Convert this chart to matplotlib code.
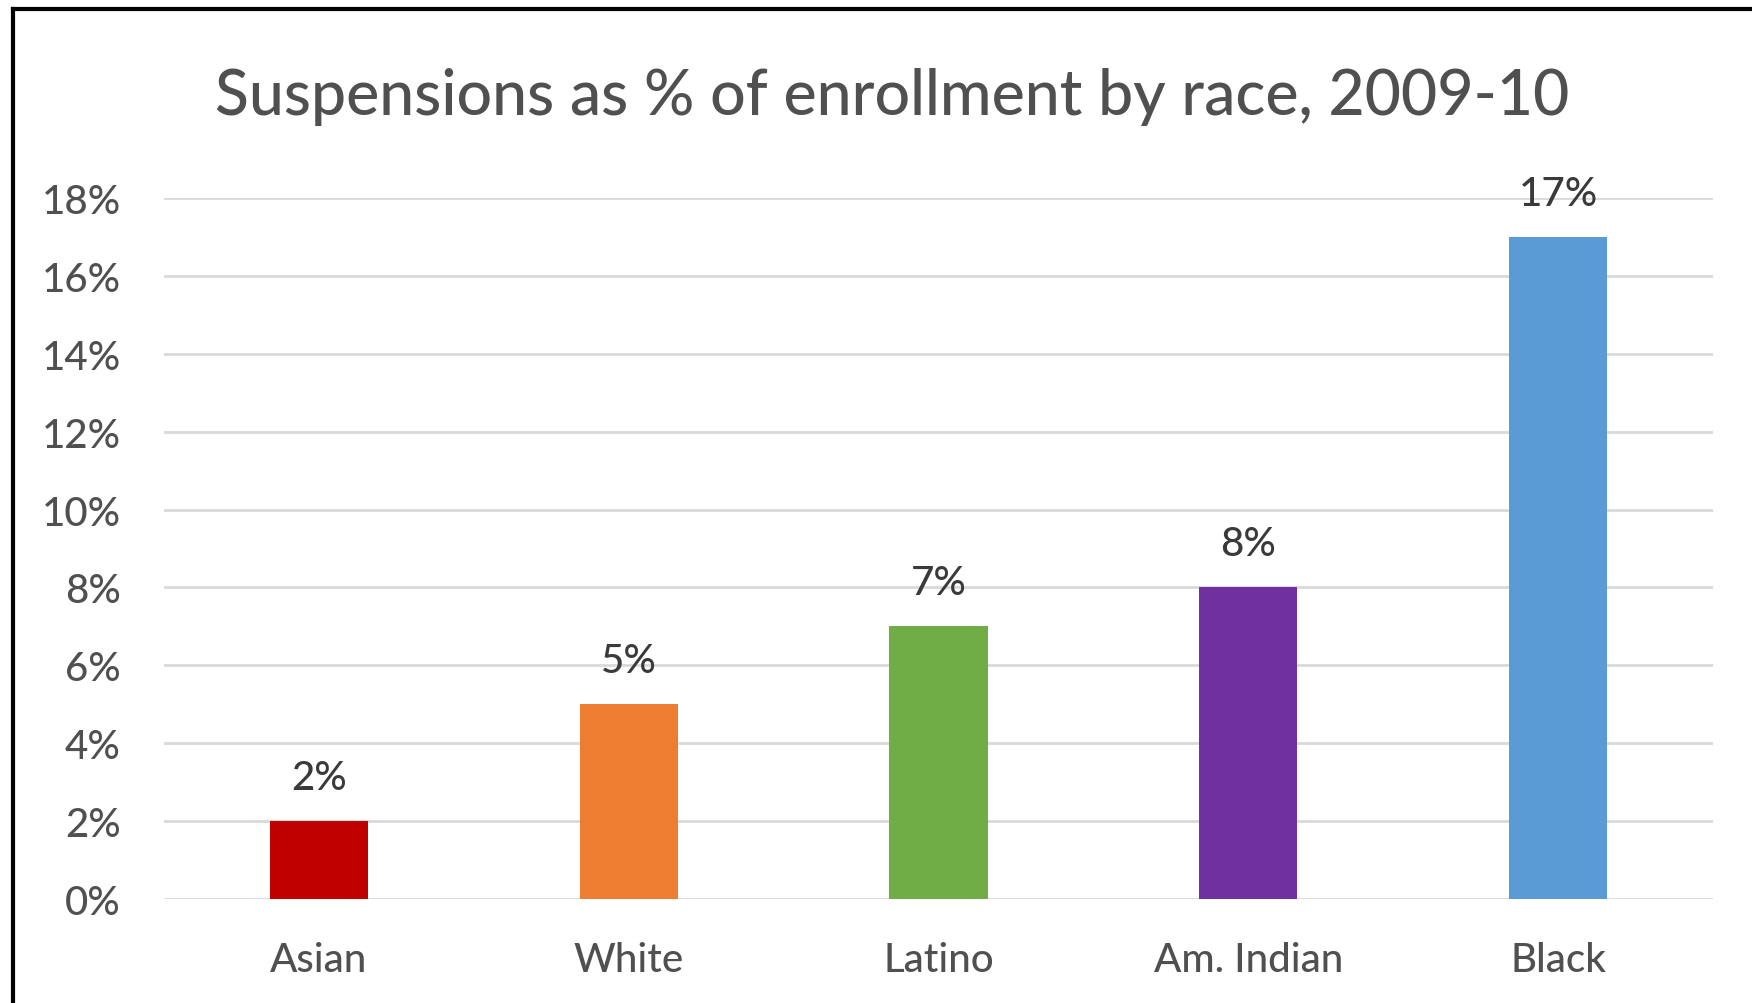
import matplotlib
matplotlib.use("Agg")
from matplotlib import pyplot as plt
from matplotlib.lines import Line2D

races = ["Asian", "White", "Latino", "Am. Indian", "Black"]
suspension_pct = [2, 5, 7, 8, 17]
bar_colors = ["#C00000", "#ED7D31", "#70AD47", "#7030A0", "#5B9BD5"]
y_ticks = [0, 2, 4, 6, 8, 10, 12, 14, 16, 18]

text_color = "#505050"
plt.rcParams["font.family"] = ["Lato", "DejaVu Sans"]
plt.rcParams["font.weight"] = "medium"

fig = plt.figure(figsize=(17.52, 10.04), dpi=100)
ax = fig.add_axes([0.0936, 0.1036, 0.8841, 0.6982])

x = range(len(races))
bars = ax.bar(x, suspension_pct, width=0.317, color=bar_colors, zorder=3)

for xi, v in zip(x, suspension_pct):
    ax.annotate(f"{v}%", (xi, v), xytext=(0, 18), textcoords="offset points",
                ha="center", va="bottom", fontsize=29, color="#3a3a3a")

ax.set_xlim(-0.5, len(races) - 0.5)
ax.set_ylim(0, 18)
ax.set_yticks(y_ticks)
ax.set_yticklabels([f"{t}%" for t in y_ticks])
ax.set_xticks(list(x))
ax.set_xticklabels(races)
ax.tick_params(axis="y", length=0, pad=31, labelsize=29, labelcolor=text_color)
ax.tick_params(axis="x", length=0, pad=30, labelsize=29, labelcolor=text_color)
ax.grid(axis="y", color="#D9D9D9", linewidth=2, zorder=0)
for s in ax.spines.values():
    s.set_visible(False)

fig.text(0.509, 0.903, "Suspensions as % of enrollment by race, 2009-10",
         ha="center", va="center", fontsize=45, color=text_color)

# outer frame (left and top only visible)
fig.add_artist(Line2D([0.0074, 0.0074], [0, 0.99], transform=fig.transFigure,
                      color="black", linewidth=3))
fig.add_artist(Line2D([0.0074, 1], [0.99, 0.99], transform=fig.transFigure,
                      color="black", linewidth=3))

fig.savefig("out.png", dpi=100)
